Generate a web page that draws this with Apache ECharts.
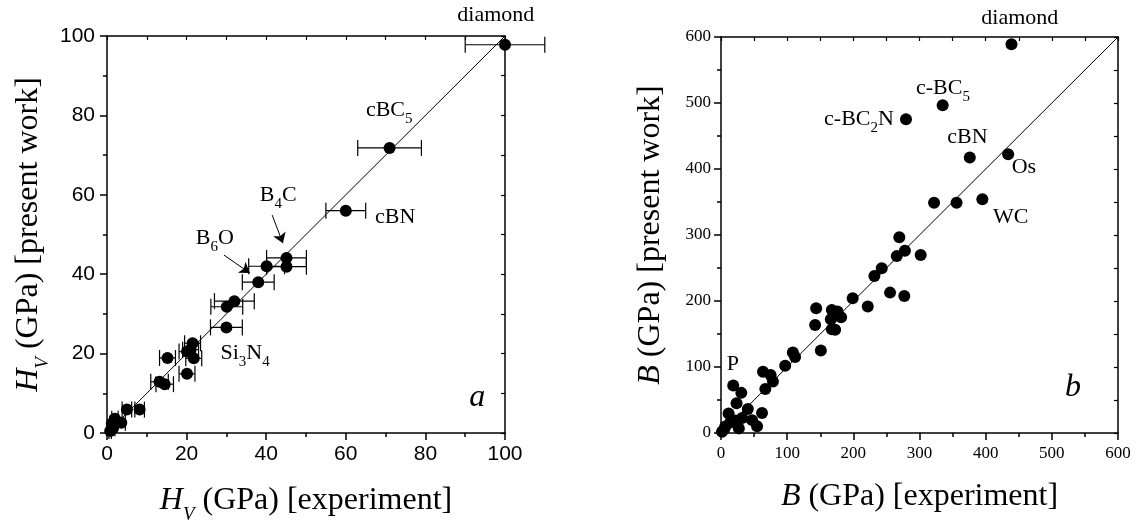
<!DOCTYPE html>
<html>
<head>
<meta charset="utf-8">
<script src="https://cdn.jsdelivr.net/npm/echarts@6/dist/echarts.min.js"></script>
<style>
html,body{margin:0;padding:0;background:#fff;}
#chart{width:1141px;height:532px;}
</style>
</head>
<body>
<div id="chart"></div>
<script>
// ---------- Panel a: Vickers hardness ----------
const hvExp  = [0.8, 1.5, 2.0, 3.6, 1.2, 5.0, 8.2, 13.2, 14.5, 15.2, 20.1, 20.1, 21.0, 21.5, 21.8, 30.1, 32.0, 30.0, 38.0, 40.1, 45.1, 45.1, 60.0, 71.0, 100.0];
const hvCalc = [0.5, 1.2, 3.6, 2.6, 2.4, 5.9, 5.9, 12.9, 12.3, 18.9, 14.9, 20.5, 21.0, 22.6, 18.8, 31.8, 33.2, 26.6, 38.0, 42.0, 44.1, 41.9, 56.0, 71.8, 97.8];
const hvErr  = [0.3, 0.5, 0.8, 1.0, 0.5, 1.2, 1.2, 2.2, 2.2, 2.0, 2.0, 2.0, 2.0, 2.0, 2.0, 4.0, 5.0, 4.0, 4.0, 4.5, 5.0, 5.0, 5.0, 8.0, 10.0];
const hvTicks = {min: 0, max: 100, interval: 20};
// annotations: [x, y, text] in data units
const hvNotes = [
  [97.7, 105.3, '{n|diamond}'],
  [70.9, 81.3, '{n|cBC}{s|5}'],
  [72.4, 54.4, '{n|cBN}'],
  [43.0, 59.9, '{n|B}{s|4}{n|C}'],
  [27.1, 49.1, '{n|B}{s|6}{n|O}'],
  [34.7, 20.0, '{n|Si}{s|3}{n|N}{s|4}']
];
const hvPanelLetter = [[93.0, 9.0, 'a']];
const hvArrows = [
  [[29.4, 44.8], [35.9, 40.3]],
  [[41.5, 54.9], [44.2, 47.8]]
];

// ---------- Panel b: bulk modulus ----------
const bExp  = [1.5, 5, 6.5, 14, 11.5, 22, 18.5, 23.5, 30.7, 27, 32, 40.5, 47, 54.5, 62, 63.5, 67, 78.5, 75, 97, 108.6, 112, 143.8, 142.3, 150.9, 167.5, 166, 167.5, 172.5, 176, 181.5, 199, 221.8, 231.8, 242.9, 255.5, 265.6, 269.5, 278, 277, 301.8, 322, 356, 395, 376, 434, 279.6, 335, 439];
const bCalc = [2, 6, 10, 16, 29.5, 19, 72, 45, 60.8, 7, 22.7, 36.3, 19.5, 10.4, 30.4, 92.7, 66.6, 78, 88, 101.8, 121.9, 115, 189, 163.8, 125, 186.5, 172.4, 157.3, 156.3, 184, 175.5, 204, 191.5, 238, 249.6, 212.7, 268, 296.5, 276, 207.7, 269.7, 349, 349, 354, 417.5, 422.5, 475.5, 496.7, 589];
const bTicks = {min: 0, max: 600, interval: 100};
const bNotes = [
  [451.6, 627.8, '{n|diamond}'],
  [335.5, 522.0, '{n|c-BC}{s|5}'],
  [208.5, 475.6, '{n|c-BC}{s|2}{n|N}'],
  [372.4, 448.0, '{n|cBN}'],
  [457.8, 403.0, '{n|Os}'],
  [438.0, 327.0, '{n|WC}'],
  [17.8, 104.8, '{n|P}']
];
const bPanelLetter = [[532.0, 68.5, 'b']];

// ---------- styles ----------
const SERIF = '"Liberation Serif", "Times New Roman", serif';
const SANS = '"Liberation Sans", Arial, sans-serif';
const BLACK = '#000';

const titleRich = {
  i: {fontFamily: SERIF, fontStyle: 'italic', fontSize: 32, lineHeight: 36, color: BLACK, verticalAlign: 'middle'},
  n: {fontFamily: SERIF, fontSize: 32, lineHeight: 36, color: BLACK, verticalAlign: 'middle'},
  s: {fontFamily: SERIF, fontStyle: 'italic', fontSize: 19, lineHeight: 14, padding: [22, 0, 0, 0], color: BLACK, verticalAlign: 'top'}
};
const noteRich = {
  n: {fontFamily: SERIF, fontSize: 22, lineHeight: 26, color: BLACK, textBorderWidth: 0, verticalAlign: 'middle'},
  s: {fontFamily: SERIF, fontSize: 15, lineHeight: 12, padding: [14, 0, 0, 0], color: BLACK, textBorderWidth: 0, verticalAlign: 'top'}
};

function mainAxis(gridIndex, ticks, position, labelFont, labelSize, margin, name, nameGap) {
  return {
    type: 'value', gridIndex, position,
    min: ticks.min, max: ticks.max, interval: ticks.interval,
    axisLine: {show: true, onZero: false, lineStyle: {color: BLACK, width: 1.5}},
    axisTick: {show: true, inside: false, length: 7, lineStyle: {color: BLACK, width: 1.5}},
    minorTick: {show: true, splitNumber: 2, length: 4, lineStyle: {color: BLACK, width: 1.5}},
    axisLabel: {show: true, color: BLACK, fontFamily: labelFont, fontSize: labelSize, margin},
    splitLine: {show: false}, minorSplitLine: {show: false},
    name, nameLocation: 'middle', nameGap,
    nameTextStyle: {rich: titleRich}
  };
}
function sideAxis(gridIndex, ticks, position, step) {
  return {
    type: 'value', gridIndex, position,
    min: ticks.min, max: ticks.max, interval: step,
    axisLine: {show: true, onZero: false, lineStyle: {color: BLACK, width: 1.5}},
    axisTick: {show: true, inside: true, length: 4, lineStyle: {color: BLACK, width: 1.2}},
    axisLabel: {show: false},
    splitLine: {show: false}
  };
}

function errorBarRender(params, api) {
  const x = api.value(0), y = api.value(1), e = api.value(2);
  const p1 = api.coord([x - e, y]);
  const p2 = api.coord([x + e, y]);
  const h = 8;
  const st = {stroke: BLACK, lineWidth: 1.2};
  return {
    type: 'group',
    children: [
      {type: 'line', shape: {x1: p1[0], y1: p1[1], x2: p2[0], y2: p2[1]}, style: st},
      {type: 'line', shape: {x1: p1[0], y1: p1[1] - h, x2: p1[0], y2: p1[1] + h}, style: st},
      {type: 'line', shape: {x1: p2[0], y1: p2[1] - h, x2: p2[0], y2: p2[1] + h}, style: st}
    ]
  };
}

function noteSeries(xi, yi, notes, rich) {
  return {
    type: 'scatter', xAxisIndex: xi, yAxisIndex: yi, clip: false, silent: true,
    symbolSize: 0.1, itemStyle: {color: 'rgba(0,0,0,0)', opacity: 1},
    data: notes.map(d => ({value: [d[0], d[1]], label: {formatter: d[2]}})),
    label: {show: true, position: 'inside', color: BLACK, opacity: 1, textBorderWidth: 0, rich}, z: 5
  };
}
function letterSeries(xi, yi, notes) {
  return {
    type: 'scatter', xAxisIndex: xi, yAxisIndex: yi, clip: false, silent: true,
    symbolSize: 0.1, itemStyle: {color: 'rgba(0,0,0,0)', opacity: 1},
    data: notes.map(d => ({value: [d[0], d[1]], label: {formatter: d[2]}})),
    label: {show: true, position: 'inside', color: BLACK, opacity: 1, textBorderWidth: 0, fontFamily: SERIF, fontStyle: 'italic', fontSize: 32}
  };
}

const chart = echarts.init(document.getElementById('chart'), null, {renderer: 'canvas'});
chart.setOption({
  animation: false,
  backgroundColor: '#fff',
  grid: [
    {left: 107, top: 36, width: 398, height: 397, outerBoundsMode: 'none', containLabel: false},
    {left: 721, top: 37, width: 397, height: 396, outerBoundsMode: 'none', containLabel: false}
  ],
  xAxis: [
    mainAxis(0, hvTicks, 'bottom', SANS, 21, 11, '{i|H}{s|V}{n| (GPa) [experiment]}', 50),
    sideAxis(0, hvTicks, 'top', 10),
    mainAxis(1, bTicks, 'bottom', SERIF, 17, 12, '{i|B}{n| (GPa) [experiment]}', 46),
    sideAxis(1, bTicks, 'top', 50)
  ],
  yAxis: [
    mainAxis(0, hvTicks, 'left', SANS, 21, 12, '{i|H}{s|V}{n| (GPa) [present work]}', 60),
    sideAxis(0, hvTicks, 'right', 10),
    mainAxis(1, bTicks, 'left', SERIF, 17, 10, '{i|B}{n| (GPa) [present work]}', 52),
    sideAxis(1, bTicks, 'right', 50)
  ],
  series: [
    {type: 'line', xAxisIndex: 0, yAxisIndex: 0, symbol: 'none', silent: true,
     data: [[hvTicks.min, hvTicks.min], [hvTicks.max, hvTicks.max]],
     lineStyle: {color: BLACK, width: 1}, z: 1},
    {type: 'custom', xAxisIndex: 0, yAxisIndex: 0, renderItem: errorBarRender, silent: true,
     encode: {x: 0, y: 1}, data: hvExp.map((x, i) => [x, hvCalc[i], hvErr[i]]), z: 2},
    {type: 'scatter', xAxisIndex: 0, yAxisIndex: 0, symbolSize: 12, clip: false, silent: true,
     itemStyle: {color: BLACK, opacity: 1}, data: hvExp.map((x, i) => [x, hvCalc[i]]), z: 3},
    noteSeries(0, 0, hvNotes, noteRich),
    letterSeries(0, 0, hvPanelLetter),
    {type: 'lines', coordinateSystem: 'cartesian2d', xAxisIndex: 0, yAxisIndex: 0, silent: true,
     symbol: ['none', 'arrow'], symbolSize: [7, 10],
     lineStyle: {color: BLACK, width: 1, opacity: 1},
     data: hvArrows.map(c => ({coords: c})), z: 4},

    {type: 'line', xAxisIndex: 2, yAxisIndex: 2, symbol: 'none', silent: true,
     data: [[bTicks.min, bTicks.min], [bTicks.max, bTicks.max]],
     lineStyle: {color: BLACK, width: 1}, z: 1},
    {type: 'scatter', xAxisIndex: 2, yAxisIndex: 2, symbolSize: 12, clip: false, silent: true,
     itemStyle: {color: BLACK, opacity: 1}, data: bExp.map((x, i) => [x, bCalc[i]]), z: 3},
    noteSeries(2, 2, bNotes, noteRich),
    letterSeries(2, 2, bPanelLetter)
  ]
});
</script>
</body>
</html>
